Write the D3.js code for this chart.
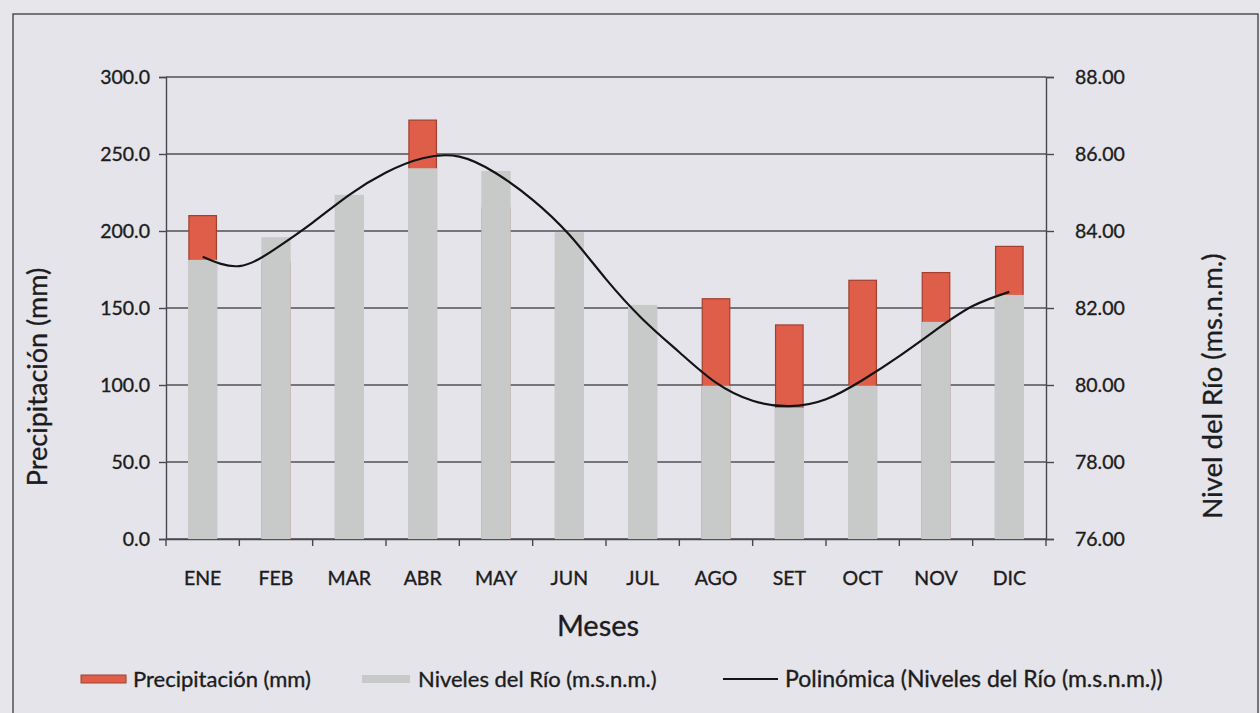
<!DOCTYPE html>
<html>
<head>
<meta charset="utf-8">
<script src="https://cdn.jsdelivr.net/npm/d3@7"></script>
<style>
  html, body { margin: 0; padding: 0; background: #e7e6eb; }
  svg { display: block; }
  text { font-family: Lato, "Open Sans", sans-serif; fill: #1c1c20; stroke: #1c1c20; stroke-width: 0.35px; }
</style>
</head>
<body>
<svg id="chart" width="1260" height="713"></svg>
<script>
// Monthly categories
const months = ["ENE", "FEB", "MAR", "ABR", "MAY", "JUN", "JUL", "AGO", "SET", "OCT", "NOV", "DIC"];
// Precipitación (mm), left axis
const precipitacion = [210, 180, 200, 272, 215, 170, 130, 156, 139, 168, 173, 190];
// Niveles del Río (m.s.n.m.), right axis
const nivelRio = [83.25, 83.84, 84.94, 85.63, 85.56, 83.97, 82.08, 79.98, 79.41, 79.98, 81.64, 82.34];
// Polynomial trendline of the river levels, sampled every half month (ENE … DIC)
const tendenciaPos = d3.range(0, 11.5, 0.5);
const tendencia = [83.33, 83.09, 83.55, 84.22, 84.94, 85.52, 85.89, 85.93, 85.50, 84.81, 83.90, 82.75,
                   81.71, 80.85, 80.06, 79.59, 79.45, 79.63, 80.13, 80.75, 81.43, 82.05, 82.42];
// Axis tick values
const leftTicks = [0, 50, 100, 150, 200, 250, 300];
const rightTicks = [76, 78, 80, 82, 84, 86, 88];

const svg = d3.select("#chart");

const plot = { left: 166, right: 1046, top: 77, bottom: 539 };
const ink = "#48484c";

const x = d3.scaleBand().domain(months)
  .range([plot.left, plot.right]).paddingInner(0.6).paddingOuter(0.3);
const yL = d3.scaleLinear().domain([0, 300]).range([plot.bottom, plot.top]);
const yR = d3.scaleLinear().domain([76, 88]).range([plot.bottom, plot.top]);

// Outer chart frame
svg.append("rect").attr("x", 13).attr("y", 14).attr("width", 1245).attr("height", 720)
  .attr("fill", "#e5e4ea").attr("stroke", "#3a3a3e").attr("stroke-width", 1.3);

// Horizontal gridlines
svg.append("g").selectAll("line").data(leftTicks).join("line")
  .attr("x1", plot.left).attr("x2", plot.right)
  .attr("y1", d => yL(d)).attr("y2", d => yL(d))
  .attr("stroke", "#505054").attr("stroke-width", 1.5);

// Left axis
const axL = svg.append("g").attr("transform", `translate(${plot.left},0)`)
  .call(d3.axisLeft(yL).tickValues(leftTicks).tickFormat(d3.format(".1f")).tickSize(7).tickPadding(9));
// Right axis
const axR = svg.append("g").attr("transform", `translate(${plot.right},0)`)
  .call(d3.axisRight(yR).tickValues(rightTicks).tickFormat(d3.format(".2f")).tickSize(8).tickPadding(21));
// Bottom axis with ticks at category boundaries
const axB = svg.append("g").attr("transform", `translate(0,${plot.bottom})`)
  .call(d3.axisBottom(x).tickSize(0).tickPadding(32));
const boundaries = d3.range(months.length + 1).map(i => plot.left + i * x.step());
axB.selectAll("line.bound").data(boundaries).join("line").attr("class", "bound")
  .attr("x1", d => d).attr("x2", d => d).attr("y1", 0).attr("y2", 7)
  .attr("stroke", ink).attr("stroke-width", 1.4);

[axL, axR, axB].forEach(a => {
  a.select(".domain").attr("stroke", ink).attr("stroke-width", 1.4);
  a.selectAll(".tick line").attr("stroke", ink).attr("stroke-width", 1.4);
  a.selectAll("text").style("font-size", "19.5px").attr("fill", "#1c1c20");
});
axR.selectAll(".tick text").attr("text-anchor", "start");

// Precipitación bars (left axis); outline kept inside the bar width
const sw = 1.2;
const inset = 0.9;
svg.append("g").selectAll("rect").data(months).join("rect")
  .attr("x", d => x(d) + inset).attr("width", x.bandwidth() - 2 * inset)
  .attr("y", (d, i) => yL(precipitacion[i]))
  .attr("height", (d, i) => plot.bottom - yL(precipitacion[i]))
  .attr("fill", "#df5e4a").attr("stroke", "#a43f2e").attr("stroke-width", sw);

// Nivel del Río bars (right axis), drawn in front
svg.append("g").selectAll("rect").data(months).join("rect")
  .attr("x", d => x(d)).attr("width", x.bandwidth())
  .attr("y", (d, i) => yR(nivelRio[i]))
  .attr("height", (d, i) => plot.bottom - yR(nivelRio[i]))
  .attr("fill", "#c8c9c9");

// Trendline
const x0 = x(months[0]) + x.bandwidth() / 2;
svg.append("path").datum(tendencia.map((v, k) => [x0 + tendenciaPos[k] * x.step(), yR(v)]))
  .attr("d", d3.line().curve(d3.curveNatural))
  .attr("fill", "none").attr("stroke", "#141414").attr("stroke-width", 2.2);

// Axis titles
svg.append("text").attr("transform", "translate(47,377) rotate(-90)")
  .attr("text-anchor", "middle").style("font-size", "27px").text("Precipitación (mm)");
svg.append("text").attr("transform", "translate(1222,386) rotate(-90)")
  .attr("text-anchor", "middle").style("font-size", "27.5px").text("Nivel del Río (ms.n.m.)");
svg.append("text").attr("x", 598).attr("y", 636)
  .attr("text-anchor", "middle").style("font-size", "29px").text("Meses");

// Legend
const legend = svg.append("g").style("font-size", "22px");
legend.append("rect").attr("x", 81).attr("y", 675).attr("width", 45).attr("height", 8)
  .attr("fill", "#df5e4a").attr("stroke", "#a43f2e").attr("stroke-width", 1);
legend.append("text").attr("x", 133).attr("y", 687).text("Precipitación (mm)");
legend.append("rect").attr("x", 362).attr("y", 675).attr("width", 48).attr("height", 8)
  .attr("fill", "#c8c9c9");
legend.append("text").attr("x", 418).attr("y", 687).text("Niveles del Río (m.s.n.m.)");
legend.append("line").attr("x1", 723).attr("x2", 778).attr("y1", 679).attr("y2", 679)
  .attr("stroke", "#141414").attr("stroke-width", 2);
legend.append("text").attr("x", 785).attr("y", 687).style("font-size", "23px")
  .text("Polinómica (Niveles del Río (m.s.n.m.))");
</script>
</body>
</html>
